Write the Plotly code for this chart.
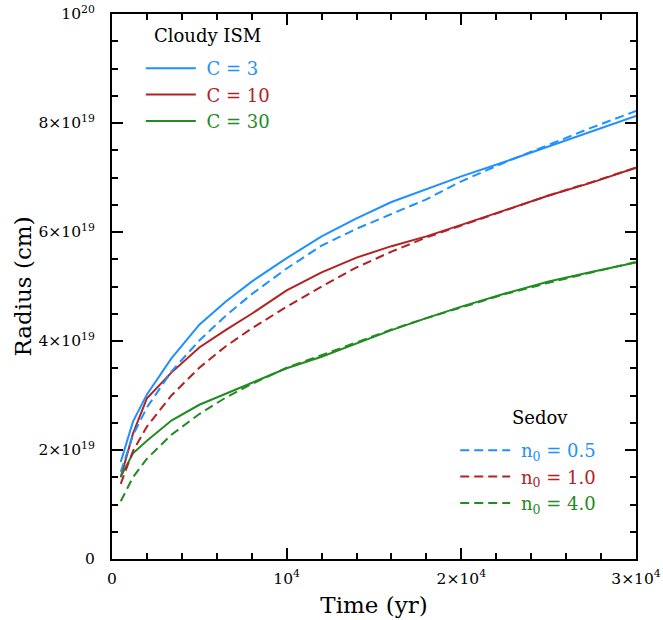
import plotly.graph_objects as go

# Time samples (yr)
time_yr = [500, 1200, 2000, 3400, 5000, 6500, 8000, 10000, 12000, 14000,
           16000, 18000, 20000, 22500, 25000, 27500, 30000]

# Radii in units of 1e19 cm
cloudy_c3 = [1.78, 2.52, 3.02, 3.68, 4.30, 4.72, 5.09, 5.52, 5.92, 6.25,
             6.55, 6.79, 7.02, 7.29, 7.57, 7.85, 8.13]
cloudy_c10 = [1.50, 2.30, 2.95, 3.42, 3.88, 4.20, 4.50, 4.93, 5.26, 5.53,
              5.74, 5.92, 6.13, 6.40, 6.67, 6.91, 7.18]
cloudy_c30 = [1.51, 1.94, 2.17, 2.54, 2.83, 3.03, 3.23, 3.50, 3.71, 3.96,
              4.20, 4.42, 4.63, 4.87, 5.09, 5.27, 5.44]
sedov_n05 = [1.60, 2.27, 2.78, 3.44, 4.01, 4.46, 4.86, 5.33, 5.75, 6.06,
             6.33, 6.60, 6.93, 7.28, 7.60, 7.92, 8.22]
sedov_n10 = [1.38, 1.98, 2.43, 3.00, 3.51, 3.90, 4.23, 4.63, 5.00, 5.35,
             5.64, 5.90, 6.12, 6.40, 6.67, 6.92, 7.18]
sedov_n40 = [1.06, 1.50, 1.84, 2.28, 2.66, 2.96, 3.21, 3.51, 3.74, 3.98,
             4.21, 4.42, 4.62, 4.86, 5.07, 5.26, 5.45]

unit = 1e19
blue = "#1e90ff"
red = "#b22222"
green = "#228b22"

x_tickvals = [0, 10000, 20000, 30000]
x_ticktext = ["0", "10<sup>4</sup>", "2×10<sup>4</sup>", "3×10<sup>4</sup>"]
y_tickvals = [0, 2e19, 4e19, 6e19, 8e19, 1e20]
y_ticktext = ["0", "2×10<sup>19</sup>", "4×10<sup>19</sup>", "6×10<sup>19</sup>",
              "8×10<sup>19</sup>", "10<sup>20</sup>"]

fig = go.Figure()

solid = [("C = 3", cloudy_c3, blue), ("C = 10", cloudy_c10, red), ("C = 30", cloudy_c30, green)]
dashed = [("n<sub>0</sub> = 0.5", sedov_n05, blue), ("n<sub>0</sub> = 1.0", sedov_n10, red),
          ("n<sub>0</sub> = 4.0", sedov_n40, green)]

for name, vals, col in solid:
    fig.add_trace(go.Scatter(
        x=time_yr, y=[v * unit for v in vals], mode="lines",
        line=dict(color=col, width=2),
        name=f'<span style="color:{col}">&nbsp;{name}</span>', legend="legend"))

for name, vals, col in dashed:
    fig.add_trace(go.Scatter(
        x=time_yr, y=[v * unit for v in vals], mode="lines",
        line=dict(color=col, width=2, dash="9px,5px"),
        name=f'<span style="color:{col}">&nbsp;{name}</span>', legend="legend2"))

axis_common = dict(
    showline=True, linecolor="black", linewidth=2, mirror="ticks",
    ticks="inside", ticklen=11, tickwidth=1.5, tickcolor="black",
    showgrid=False, zeroline=False, automargin=False,
    tickfont=dict(family="DejaVu Serif", size=15.5, color="black"),
)

title_font = dict(family="DejaVu Serif", size=23, color="black")

fig.update_layout(
    width=663, height=620,
    margin=dict(l=112, r=27, t=14, b=61),
    paper_bgcolor="white", plot_bgcolor="white",
    xaxis=dict(range=[0, 30000], tickvals=x_tickvals, ticktext=x_ticktext,
               minor=dict(ticks="inside", ticklen=6, tickwidth=1.5, dtick=2000, tick0=0,
                          tickcolor="black"),
               title=dict(text="Time (yr)", font=title_font, standoff=10),
               ticklabelstandoff=4,
               **axis_common),
    yaxis=dict(range=[0, 1e20], tickvals=y_tickvals, ticktext=y_ticktext,
               minor=dict(ticks="inside", ticklen=6, tickwidth=1.5, dtick=5e18, tick0=0,
                          tickcolor="black"),
               title=dict(text="Radius (cm)", font=title_font, standoff=0),
               ticklabelstandoff=12,
               **axis_common),
    legend=dict(
        x=0.055, y=0.934, xanchor="left", yanchor="top",
        bgcolor="rgba(0,0,0,0)",
        font=dict(family="DejaVu Serif", size=18),
        itemwidth=50,
    ),
    legend2=dict(
        x=0.655, y=0.233, xanchor="left", yanchor="top",
        bgcolor="rgba(0,0,0,0)",
        font=dict(family="DejaVu Serif", size=18),
        itemwidth=50,
    ),
    annotations=[
        dict(text="Cloudy ISM", xref="paper", yref="paper", x=0.183, y=0.961,
             xanchor="center", yanchor="middle",
             showarrow=False, font=dict(family="DejaVu Serif", size=18, color="black")),
        dict(text="Sedov", xref="paper", yref="paper", x=0.817, y=0.259,
             xanchor="center", yanchor="middle",
             showarrow=False, font=dict(family="DejaVu Serif", size=18, color="black")),
    ],
)

fig.write_html("out.html")
